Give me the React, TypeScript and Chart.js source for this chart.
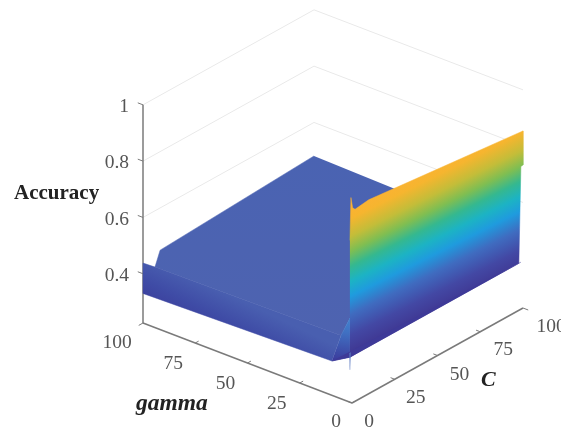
import React, { useEffect, useRef } from "react";
import { Chart, registerables } from "chart.js";

Chart.register(...registerables);

const W = 561;
const H = 428;
const zFloor = 0.225;

// Surface patches: gamma, C and accuracy at each corner
const plateauGamma = [100, 100, 100, 11, 1, 1, 60];
const plateauC = [100, 10, 7, 7, 0, 40, 100];
const plateauAcc = [0.481, 0.45, 0.4, 0.41, 0.523, 0.6, 0.474];

const bandGamma = [100, 100, 100, 11, 9.6, 100];
const bandC = [0, 0, 7, 7, 0, 0];
const bandAcc = [0.33, 0.438, 0.4, 0.41, 0.347, 0.33];

const cornerGamma = [11, 1, 1, 1, 9.6];
const cornerC = [7, 0, 0, 0, 0];
const cornerAcc = [0.41, 0.523, 0.42, 0.385, 0.347];

const wallGamma = [1, 1, 1, 1, 1, 0, 0, 1, 1, 1];
const wallC = [0, 0.6, 1.6, 3, 11, 100, 100, 100, 98.8, 0];
const wallAcc = [0.8, 0.95, 0.91, 0.9, 0.907, 0.854, 0.733, 0.725, 0.385, 0.385];

const bottomGamma = [9.6, 1, 1, 1];
const bottomC = [0, 0, 8, 100];
const bottomAcc = [0.347, 0.385, 0.385, 0.385];

const spikeGamma = [1, 1, 1];
const spikeC = [-0.3, 0.3, 0];
const spikeAcc = [0.4, 0.4, 0.34];

const wallStops = [0, 0.14, 0.28, 0.4, 0.5, 0.6, 0.7, 0.8, 0.92, 1];
const wallColors = ["#3f3590", "#4348a4", "#3f6cc0", "#1f9bde", "#1cb3c4", "#35b88f", "#7fbe52", "#c3bd39", "#f6b52f", "#fbb233"];

const accuracyTicks = [0.4, 0.6, 0.8, 1];
const accuracyTickLabels = ["0.4", "0.6", "0.8", "1"];
const gammaTicks = [0, 25, 50, 75, 100];
const gammaTickLabels = ["0", "25", "50", "75", "100"];
const cTicks = [0, 25, 50, 75, 100];
const cTickLabels = ["0", "25", "50", "75", "100"];

const projX = (g: number, c: number) => 352 - 2.09 * g + 1.71 * c;
const projY = (g: number, c: number, z: number) => 403 - 0.8 * g - 0.95 * c - 281.5 * (z - zFloor);
const pt = (g: number, c: number, z: number) => ({ x: projX(g, c), y: projY(g, c, z) });
const poly = (g: number[], c: number[], z: number[]) => g.map((v, i) => pt(v, c[i], z[i]));
const line = (data: { x: number; y: number }[], color: string, width: number) => ({
  data,
  borderColor: color,
  borderWidth: width,
  showLine: true,
  pointRadius: 0,
  fill: false,
});

const SERIF = '"Liberation Serif", serif';
const gammaLabelDx = [-16, -23, -22, -22, -26];
const gammaLabelDy = [19, 21, 21, 21, 20];
const cLabelDx = [17, 21, 22, 23, 28];
const cLabelDy = [19, 19, 19, 18, 19];

const textPlugin = {
  id: "axisText",
  afterDatasetsDraw(chart: any) {
    const ctx = chart.ctx;
    ctx.save();
    ctx.textBaseline = "middle";
    ctx.fillStyle = "#555";
    ctx.font = `19.5px ${SERIF}`;
    ctx.textAlign = "right";
    accuracyTicks.forEach((z, i) => {
      ctx.fillText(accuracyTickLabels[i], 129, projY(100, 0, z) + 2);
    });
    ctx.textAlign = "center";
    gammaTicks.forEach((g, i) => {
      ctx.fillText(gammaTickLabels[i], projX(g, 0) + gammaLabelDx[i], projY(g, 0, zFloor) + gammaLabelDy[i]);
    });
    cTicks.forEach((c, i) => {
      ctx.fillText(cTickLabels[i], projX(0, c) + cLabelDx[i], projY(0, c, zFloor) + cLabelDy[i]);
    });
    ctx.fillStyle = "#222";
    ctx.font = `bold 21px ${SERIF}`;
    ctx.textAlign = "left";
    ctx.fillText("Accuracy", 14, 194);
    ctx.font = `italic bold 23.5px ${SERIF}`;
    ctx.fillText("gamma", 136, 404);
    ctx.font = `italic bold 22px ${SERIF}`;
    ctx.fillText("C", 481, 380);
    ctx.restore();
  },
};

export default function App() {
  const ref = useRef<HTMLCanvasElement>(null);
  useEffect(() => {
    const canvas = ref.current!;
    const ctx = canvas.getContext("2d")!;

    const n = { x: 0.447, y: 0.894 };
    const wallGrad = ctx.createLinearGradient(349, 357, 349 - 134 * n.x, 357 - 134 * n.y);
    wallStops.forEach((s, i) => wallGrad.addColorStop(s, wallColors[i]));

    const plateauGrad = ctx.createLinearGradient(0, 156, 0, 340);
    plateauGrad.addColorStop(0, "#4a63b2");
    plateauGrad.addColorStop(1, "#4e63b0");

    const bandGrad = ctx.createLinearGradient(220, 342, 240, 300);
    bandGrad.addColorStop(0, "#3a3b9a");
    bandGrad.addColorStop(0.5, "#3f4ca6");
    bandGrad.addColorStop(1, "#495fb0");

    const cornerGrad = ctx.createLinearGradient(345, 360, 350, 315);
    cornerGrad.addColorStop(0, "#3c3e9e");
    cornerGrad.addColorStop(0.6, "#4070c2");
    cornerGrad.addColorStop(1, "#3f86d2");

    const fillPoly = (data: { x: number; y: number }[], color: any) => ({
      data,
      borderColor: color,
      borderWidth: 0.5,
      backgroundColor: color,
      showLine: true,
      pointRadius: 0,
      fill: "shape",
    });

    const axisColor = "#7a7a7a";
    const gridColor = "#e9e9e9";
    const ticks: any[] = [];
    accuracyTicks.forEach((z) =>
      ticks.push(line([pt(100, 0, z), pt(102.5, 0, z)], axisColor, 1))
    );
    gammaTicks.forEach((g) =>
      ticks.push(line([pt(g, 0, zFloor), pt(g, g === 100 ? -2.5 : 2, zFloor)], axisColor, 1))
    );
    cTicks.forEach((c) =>
      ticks.push(line([pt(0, c, zFloor), pt(c === 100 ? -2.5 : 2, c, zFloor)], axisColor, 1))
    );
    const grids = [0.6, 0.8, 1].map((z) =>
      line([pt(100, 0, z), pt(100, 100, z), pt(0, 100, z)], gridColor, 1)
    );

    // painted back to front; Chart.js paints the first dataset last, so this list is reversed
    const back: any[] = [
      ...grids,
      line([pt(100, 0, zFloor), pt(100, 0, 1)], axisColor, 1.5),
      line([pt(100, 0, zFloor), pt(0, 0, zFloor)], axisColor, 1.5),
      line([pt(0, 0, zFloor), pt(0, 100, zFloor)], axisColor, 1.5),
      ...ticks,
      fillPoly(poly(plateauGamma, plateauC, plateauAcc), plateauGrad),
      fillPoly(poly(bandGamma, bandC, bandAcc), bandGrad),
      fillPoly(poly(cornerGamma, cornerC, cornerAcc), cornerGrad),
      fillPoly(poly(wallGamma, wallC, wallAcc), wallGrad),
      fillPoly(poly(bottomGamma, bottomC, bottomAcc), "#3e3a98"),
      fillPoly(poly(spikeGamma, spikeC, spikeAcc), "#5a78c0"),
    ];

    const chart = new Chart(canvas, {
      type: "scatter",
      data: { datasets: back.reverse() },
      options: {
        responsive: false,
        animation: false,
        layout: { padding: 0 },
        plugins: { legend: { display: false }, tooltip: { enabled: false } },
        scales: {
          x: { type: "linear", display: false, min: 0, max: W },
          y: { type: "linear", display: false, min: 0, max: H, reverse: true },
        },
      },
      plugins: [textPlugin],
    } as any);
    return () => chart.destroy();
  }, []);
  return (
    <div style={{ position: "absolute", left: 0, top: 0, width: W, height: H, background: "#fff" }}>
      <canvas ref={ref} width={W} height={H} style={{ display: "block" }} />
    </div>
  );
}
